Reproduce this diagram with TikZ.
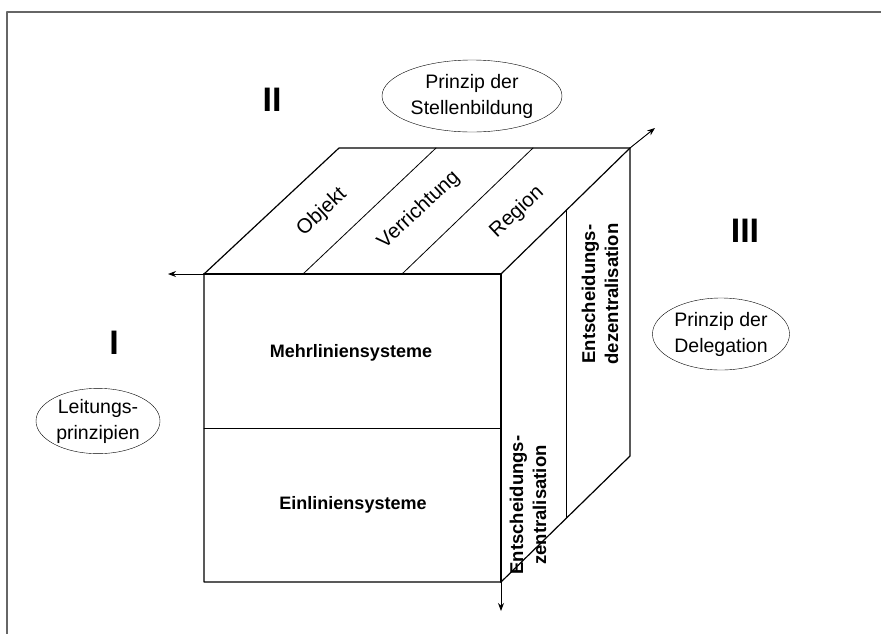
\documentclass[tikz,border=0pt]{standalone}
\usepackage{fontspec}
\setmainfont{Liberation Sans}
\usetikzlibrary{shapes.geometric,arrows.meta,calc}
\begin{document}
\begin{tikzpicture}[x=1pt, y=-1pt, line join=round, line cap=round, >={Stealth[length=8pt,width=6pt]}]
	\tikzset{every node/.style={font=\fontsize{19.5}{26}\selectfont, align=center},
		feld/.style={font=\fontsize{18.5}{23}\selectfont\bfseries},
		nummer/.style={font=\fontsize{34}{34}\selectfont\bfseries},
		prinzip/.style={draw, ellipse, inner sep=1pt},
		kante/.style={line width=1.2pt},
		teilung/.style={line width=.8pt}}
	\useasboundingbox (0,0) rectangle (881,633);
	% Rahmen
	\draw[black!60, line width=1.8pt] (7,640) -- (7,12) -- (890,12);
	% Eckpunkte des Wuerfels
	\path (204,274) coordinate (A)
		(501,274) coordinate (B)
		(501,582) coordinate (C)
		(204,582) coordinate (D)
		(339,148) coordinate (E)
		(630,148) coordinate (F)
		(630,456) coordinate (G)
		(168,274) coordinate (xI)
		(655,128) coordinate (xII)
		(501,611) coordinate (xIII)
		;
	% Achsen
	\foreach \a/\b in {A/xI, F/xII, C/xIII}{\draw[->, line width=.9pt] (\a)--(\b);}
	% Flaechen
	\draw[kante] (A) -- (E) -- (F) -- (G) -- (C) -- (D) -- cycle;
	\draw[line width=2.2pt] (A) -- (B) -- (C);
	\draw[kante] (B) -- (F);
	\foreach \t in {1,2}{\draw[teilung] ($(A)!\t/3!(B)$) -- ($(E)!\t/3!(F)$);}
	\draw[teilung] ($(A)!.5!(D)$) -- ($(B)!.5!(C)$);
	\draw[teilung] ($(B)!.51!(F)$) -- ($(C)!.51!(G)$);
	% Beschriftung oben
	\node[rotate=43, font=\fontsize{20.5}{24}\selectfont] (objekt) at (322,212) {Objekt};
	\node[rotate=43, font=\fontsize{20.5}{24}\selectfont] (verrichtung) at (419,210) {Verrichtung};
	\node[rotate=43, font=\fontsize{20.5}{24}\selectfont] (region) at (517,212) {Region};
	% Beschriftung vorne
	\node[feld, font=\fontsize{18}{23}\selectfont\bfseries] (mehr) at (351,353) {Mehrliniensysteme};
	\node[feld, font=\fontsize{18}{23}\selectfont\bfseries] (ein) at (353,505) {Einliniensysteme};
	% Beschriftung rechts
	\node[feld, rotate=90] (zentral) at (528,505) {Entscheidungs-\\zentralisation};
	\node[feld, rotate=90] (dezentral) at (600,294) {Entscheidungs-\\dezentralisation};
	% Dimensionen
	\node[nummer] (n1) at (114,343) {I};
	\node[nummer] (n2) at (272,100) {II};
	\node[nummer] (n3) at (745,231) {III};
	\node[prinzip, minimum width=124, minimum height=60] (leitung) at (98,421) {Leitungs-\\prinzipien};
	\node[prinzip, minimum width=180, minimum height=72] (stelle) at (472,96) {Prinzip der\\Stellenbildung};
	\node[prinzip, minimum width=137, minimum height=72] (deleg) at (721,334) {Prinzip der\\Delegation};
\end{tikzpicture}
\end{document}
